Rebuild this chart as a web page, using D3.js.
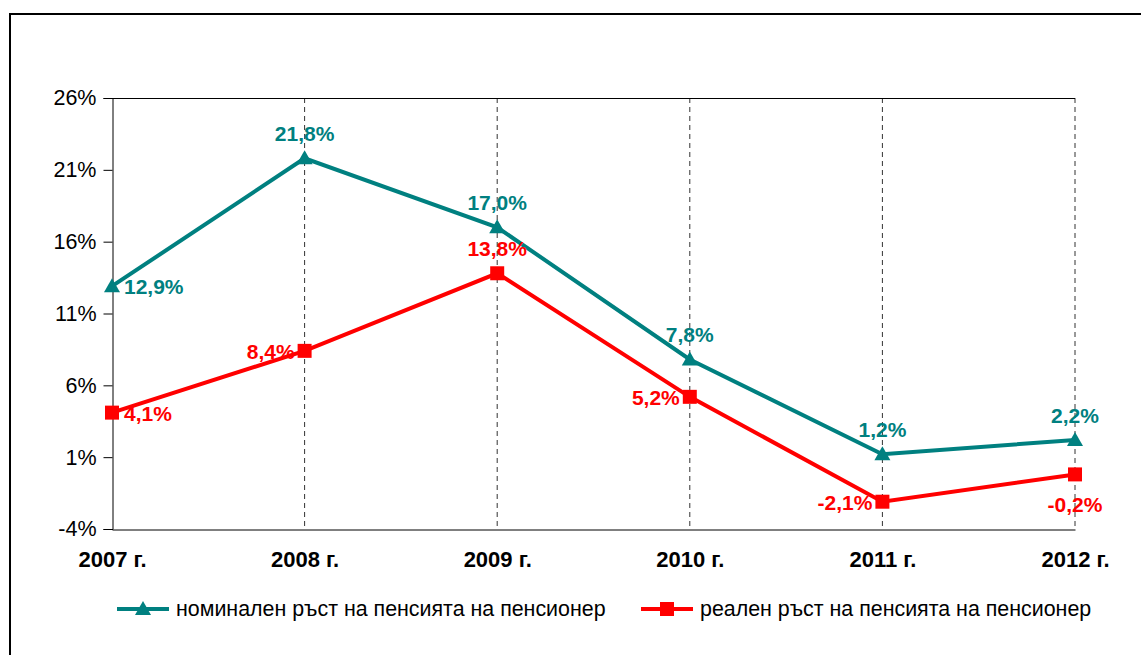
<!DOCTYPE html>
<html>
<head>
<meta charset="utf-8">
<script src="https://cdn.jsdelivr.net/npm/d3@7"></script>
<style>
  body { margin: 0; background: #fff; }
  svg text { font-family: Arial, "Liberation Sans", sans-serif; }
</style>
</head>
<body>
<svg id="chart" width="1141" height="655"></svg>
<script>
const years = ['2007 г.', '2008 г.', '2009 г.', '2010 г.', '2011 г.', '2012 г.'];
const nominal = [12.9, 21.8, 17.0, 7.8, 1.2, 2.2];
const real = [4.1, 8.4, 13.8, 5.2, -2.1, -0.2];
const yTicks = [-4, 1, 6, 11, 16, 21, 26];
const nominalPos = ['right', 'above', 'above', 'above', 'above', 'above'];
const realPos = ['right', 'left', 'above', 'left', 'left', 'below'];
const seriesNames = ['номинален ръст на пенсията на пенсионер', 'реален ръст на пенсията на пенсионер'];

const teal = '#008080';
const red = '#ff0000';

const svg = d3.select('#chart');
const margin = { left: 112, right: 1075, top: 98, bottom: 529 };

// outer frame
svg.append('rect')
  .attr('x', 10).attr('y', 14)
  .attr('width', 1150).attr('height', 660)
  .attr('fill', 'none').attr('stroke', '#000').attr('stroke-width', 2);

const x = d3.scalePoint().domain(years).range([margin.left, margin.right]);
const y = d3.scaleLinear().domain([-4, 26]).range([margin.bottom, margin.top]);

const fmt = v => v.toFixed(1).replace('.', ',') + '%';

// dashed vertical gridlines
svg.append('g')
  .selectAll('line')
  .data(years.slice(1))
  .join('line')
  .attr('x1', d => x(d)).attr('x2', d => x(d))
  .attr('y1', margin.top).attr('y2', margin.bottom)
  .attr('stroke', '#333').attr('stroke-width', 1)
  .attr('stroke-dasharray', '5,4');

// top border
svg.append('line')
  .attr('x1', margin.left).attr('x2', margin.right)
  .attr('y1', margin.top + 0.5).attr('y2', margin.top + 0.5)
  .attr('stroke', '#000');

// y axis
const yAxis = svg.append('g')
  .attr('transform', `translate(${margin.left + 0.5},0)`)
  .call(d3.axisLeft(y).tickValues(yTicks).tickSize(9).tickPadding(7).tickFormat(d => d + '%'));
yAxis.select('.domain').attr('stroke', '#000');
yAxis.selectAll('text').attr('font-size', 21.5).attr('fill', '#000');

// x axis
const xAxis = svg.append('g')
  .attr('transform', `translate(0,${margin.bottom + 0.5})`)
  .call(d3.axisBottom(x).tickSize(0).tickPadding(22));
xAxis.select('.domain').attr('stroke', '#000');
xAxis.selectAll('text').attr('font-size', 22).attr('font-weight', 'bold').attr('fill', '#000');

const line = d3.line().x((d, i) => x(years[i])).y(d => y(d));

function drawSeries(values, color, marker, positions) {
  svg.append('path')
    .datum(values)
    .attr('d', line)
    .attr('fill', 'none')
    .attr('stroke', color)
    .attr('stroke-width', 4)
    .attr('stroke-linejoin', 'miter');

  svg.append('g')
    .selectAll('path')
    .data(values)
    .join('path')
    .attr('transform', (d, i) => `translate(${x(years[i])},${y(d)})`)
    .attr('d', marker)
    .attr('fill', color);

  svg.append('g')
    .selectAll('text')
    .data(values)
    .join('text')
    .attr('x', (d, i) => {
      const p = positions[i];
      if (p === 'right') return x(years[i]) + 12;
      if (p === 'left') return x(years[i]) - 10;
      return x(years[i]);
    })
    .attr('y', (d, i) => {
      const p = positions[i];
      if (p === 'above') return y(d) - 17;
      if (p === 'below') return y(d) + 38;
      return y(d) + 8;
    })
    .attr('text-anchor', (d, i) => {
      const p = positions[i];
      return p === 'right' ? 'start' : p === 'left' ? 'end' : 'middle';
    })
    .attr('font-size', 21)
    .attr('font-weight', 'bold')
    .attr('fill', color)
    .text(d => fmt(d));
}

const triangle = 'M0,-8L8,6L-8,6Z';
const square = 'M-7,-7H7V7H-7Z';

drawSeries(nominal, teal, triangle, nominalPos);
drawSeries(real, red, square, realPos);

// legend
const legend = [
  { name: seriesNames[0], color: teal, marker: triangle, x: 117 },
  { name: seriesNames[1], color: red, marker: square, x: 641 }
];
const lg = svg.append('g').selectAll('g').data(legend).join('g')
  .attr('transform', d => `translate(${d.x},609)`);
lg.append('line')
  .attr('x1', 0).attr('x2', 52)
  .attr('stroke', d => d.color).attr('stroke-width', 4);
lg.append('path')
  .attr('transform', 'translate(26,0)')
  .attr('d', d => d.marker)
  .attr('fill', d => d.color);
lg.append('text')
  .attr('x', 59).attr('y', 7)
  .attr('font-size', 21.4)
  .attr('fill', '#000')
  .text(d => d.name);
</script>
</body>
</html>
